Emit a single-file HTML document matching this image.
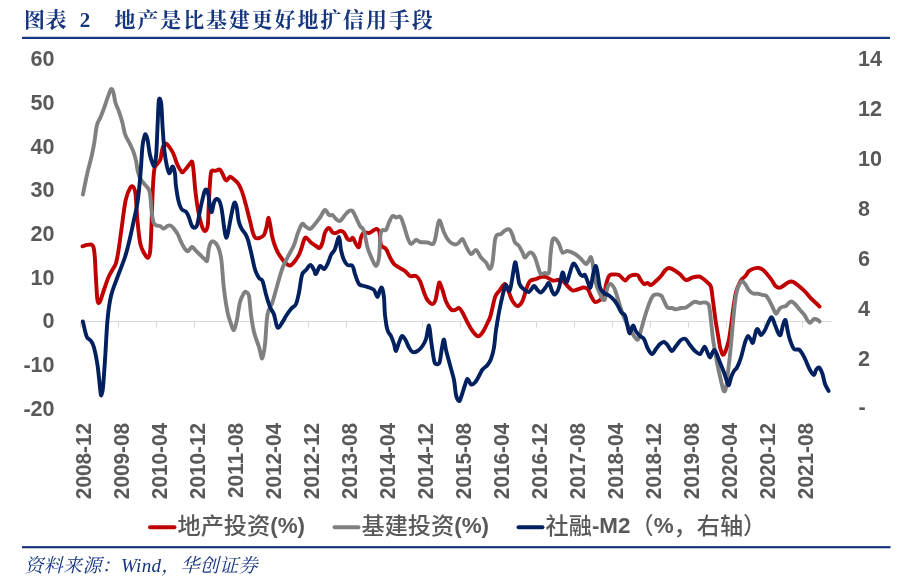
<!DOCTYPE html>
<html lang="zh-CN">
<head>
<meta charset="utf-8">
<title>图表 2 地产是比基建更好地扩信用手段</title>
<style>
html,body{margin:0;padding:0;background:#fff;}
body{width:908px;height:587px;overflow:hidden;position:relative;}
svg{position:absolute;left:0;top:0;display:block;}
.ttl{font-family:"Liberation Serif","Noto Serif CJK SC",serif;font-weight:bold;font-size:21px;fill:#15357f;}
.src{font-family:"Liberation Serif","Noto Serif CJK SC",serif;font-style:italic;font-size:19px;fill:#15357f;}
.ax{font-family:"Liberation Sans","Noto Sans CJK SC",sans-serif;font-weight:bold;font-size:21.6px;fill:#595959;}
.lg{font-family:"Liberation Sans","Noto Sans CJK SC",sans-serif;font-weight:500;font-size:23.2px;fill:#595959;}
.lgb{font-weight:bold;font-size:22.4px;}
.ln{fill:none;stroke-width:3.9;stroke-linecap:round;stroke-linejoin:round;}
</style>
</head>
<body>
<svg width="908" height="587" viewBox="0 0 908 587">
<rect x="0" y="0" width="908" height="587" fill="#ffffff"/>

<text class="ttl" x="24" y="27.2" style="letter-spacing:0.6px">图表</text>
<text class="ttl" x="79.8" y="27.2">2</text>
<text class="ttl" x="114.6" y="27.2" style="letter-spacing:1.85px">地产是比基建更好地扩信用手段</text>
<rect x="22" y="36.8" width="868" height="2.2" fill="#15357f"/>
<rect x="22" y="546.1" width="868.5" height="2.2" fill="#15357f"/>
<text class="src" x="24.5" y="572" style="letter-spacing:0.3px">资料来源：Wind，华创证券</text>
<text class="ax" x="54.6" y="66.4" text-anchor="end">60</text>
<text class="ax" x="54.6" y="110.1" text-anchor="end">50</text>
<text class="ax" x="54.6" y="153.7" text-anchor="end">40</text>
<text class="ax" x="54.6" y="197.4" text-anchor="end">30</text>
<text class="ax" x="54.6" y="241.0" text-anchor="end">20</text>
<text class="ax" x="54.6" y="284.7" text-anchor="end">10</text>
<text class="ax" x="54.6" y="328.4" text-anchor="end">0</text>
<text class="ax" x="54.6" y="372.0" text-anchor="end">-10</text>
<text class="ax" x="54.6" y="415.6" text-anchor="end">-20</text>
<text class="ax" x="858" y="66.4">14</text>
<text class="ax" x="858" y="116.3">12</text>
<text class="ax" x="858" y="166.1">10</text>
<text class="ax" x="858" y="216.0">8</text>
<text class="ax" x="858" y="265.9">6</text>
<text class="ax" x="858" y="315.7">4</text>
<text class="ax" x="858" y="365.6">2</text>
<text class="ax" x="858.5" y="413.8">-</text>
<g stroke="#d9d9d9" stroke-width="1" fill="none">
<path d="M80.5 321.5H831.5"/>
<path d="M80.5 321.5v6M118.5 321.5v6M156.5 321.5v6M194.5 321.5v6M232.5 321.5v6M270.5 321.5v6M308.5 321.5v6M346.5 321.5v6M384.5 321.5v6M422.5 321.5v6M460.5 321.5v6M498.5 321.5v6M536.5 321.5v6M574.5 321.5v6M612.5 321.5v6M650.5 321.5v6M688.5 321.5v6M726.5 321.5v6M764.5 321.5v6M802.5 321.5v6"/>
</g>
<text class="ax" transform="translate(90.7 422.8) rotate(-90) scale(0.964 1)" text-anchor="end">2008-12</text>
<text class="ax" transform="translate(128.7 422.8) rotate(-90) scale(0.964 1)" text-anchor="end">2009-08</text>
<text class="ax" transform="translate(166.7 422.8) rotate(-90) scale(0.964 1)" text-anchor="end">2010-04</text>
<text class="ax" transform="translate(204.7 422.8) rotate(-90) scale(0.964 1)" text-anchor="end">2010-12</text>
<text class="ax" transform="translate(242.7 422.8) rotate(-90) scale(0.964 1)" text-anchor="end">2011-08</text>
<text class="ax" transform="translate(280.7 422.8) rotate(-90) scale(0.964 1)" text-anchor="end">2012-04</text>
<text class="ax" transform="translate(318.7 422.8) rotate(-90) scale(0.964 1)" text-anchor="end">2012-12</text>
<text class="ax" transform="translate(356.7 422.8) rotate(-90) scale(0.964 1)" text-anchor="end">2013-08</text>
<text class="ax" transform="translate(394.7 422.8) rotate(-90) scale(0.964 1)" text-anchor="end">2014-04</text>
<text class="ax" transform="translate(432.7 422.8) rotate(-90) scale(0.964 1)" text-anchor="end">2014-12</text>
<text class="ax" transform="translate(470.7 422.8) rotate(-90) scale(0.964 1)" text-anchor="end">2015-08</text>
<text class="ax" transform="translate(508.7 422.8) rotate(-90) scale(0.964 1)" text-anchor="end">2016-04</text>
<text class="ax" transform="translate(546.7 422.8) rotate(-90) scale(0.964 1)" text-anchor="end">2016-12</text>
<text class="ax" transform="translate(584.7 422.8) rotate(-90) scale(0.964 1)" text-anchor="end">2017-08</text>
<text class="ax" transform="translate(622.7 422.8) rotate(-90) scale(0.964 1)" text-anchor="end">2018-04</text>
<text class="ax" transform="translate(660.7 422.8) rotate(-90) scale(0.964 1)" text-anchor="end">2018-12</text>
<text class="ax" transform="translate(698.7 422.8) rotate(-90) scale(0.964 1)" text-anchor="end">2019-08</text>
<text class="ax" transform="translate(736.7 422.8) rotate(-90) scale(0.964 1)" text-anchor="end">2020-04</text>
<text class="ax" transform="translate(774.7 422.8) rotate(-90) scale(0.964 1)" text-anchor="end">2020-12</text>
<text class="ax" transform="translate(812.7 422.8) rotate(-90) scale(0.964 1)" text-anchor="end">2021-08</text>
<path class="ln" stroke="#c00000" d="M82.5 246.3C83.3 246.1 85.7 245.2 87.2 244.9C88.7 244.6 90.4 244.2 91.5 244.6C92.6 245.0 93.0 245.4 93.6 247.5C94.1 249.6 94.4 252.2 94.8 257.0C95.2 261.8 95.4 269.0 95.8 276.0C96.2 283.0 96.8 294.5 97.3 299.0C97.8 303.5 98.1 302.8 98.6 303.0C99.1 303.2 99.5 302.8 100.4 300.5C101.3 298.2 102.7 293.5 104.1 289.5C105.5 285.5 107.2 280.1 108.8 276.5C110.4 272.9 112.2 270.4 113.5 268.0C114.8 265.6 115.4 265.6 116.3 262.0C117.2 258.4 118.2 252.5 119.1 246.5C120.0 240.5 120.8 233.8 121.9 226.0C123.0 218.2 124.3 206.4 125.7 200.0C127.1 193.6 129.1 189.6 130.4 187.5C131.7 185.4 132.8 186.2 133.7 187.5C134.6 188.8 135.0 189.4 135.6 195.0C136.2 200.6 136.7 212.9 137.5 221.0C138.3 229.1 139.2 238.4 140.3 243.7C141.4 249.0 142.8 250.7 144.0 253.0C145.2 255.3 146.8 258.1 147.8 257.8C148.8 257.5 149.6 256.5 150.2 251.0C150.8 245.5 151.1 235.6 151.5 225.0C151.9 214.4 152.4 196.8 152.9 187.5C153.4 178.2 153.7 172.9 154.4 169.0C155.1 165.1 156.2 165.6 157.2 164.0C158.2 162.4 159.5 162.1 160.3 159.7C161.1 157.3 161.6 151.9 162.2 149.4C162.8 146.9 163.4 145.6 164.1 144.7C164.8 143.8 165.4 143.2 166.3 143.7C167.2 144.2 168.5 145.8 169.7 147.5C170.9 149.2 172.2 151.2 173.5 154.0C174.8 156.8 175.9 161.5 177.2 164.3C178.4 167.1 180.1 169.7 181.0 171.0C181.9 172.3 181.9 172.7 182.8 172.2C183.7 171.7 185.3 169.5 186.6 168.0C187.8 166.5 189.4 164.4 190.3 163.4C191.2 162.4 191.7 160.6 192.3 162.0C192.9 163.4 193.1 166.8 193.7 172.0C194.2 177.2 194.8 186.3 195.6 193.0C196.4 199.7 197.3 206.2 198.4 211.9C199.5 217.6 201.0 223.7 202.2 226.9C203.3 230.1 204.4 231.3 205.3 231.0C206.2 230.7 207.2 229.2 207.8 225.0C208.4 220.8 208.3 213.5 208.7 206.0C209.1 198.5 209.7 185.8 210.2 180.0C210.7 174.2 210.6 172.5 211.5 171.0C212.4 169.5 214.2 171.1 215.5 170.8C216.8 170.6 218.4 169.2 219.5 169.5C220.6 169.8 221.1 171.1 222.0 172.7C222.9 174.3 224.2 178.0 225.0 179.3C225.8 180.6 225.9 180.7 226.8 180.3C227.7 179.9 229.0 176.8 230.2 176.7C231.4 176.6 232.8 178.3 234.2 179.6C235.6 180.9 237.4 182.3 238.8 184.5C240.2 186.7 241.3 189.4 242.5 193.0C243.7 196.6 244.9 201.3 246.2 206.0C247.4 210.7 248.9 216.6 250.0 221.0C251.1 225.4 251.9 229.7 252.8 232.5C253.7 235.3 254.1 236.8 255.2 237.7C256.3 238.6 257.8 238.4 259.3 238.0C260.8 237.6 262.8 236.8 264.0 235.0C265.2 233.2 265.8 229.8 266.5 226.9C267.2 224.1 267.7 218.2 268.3 217.9C268.9 217.6 269.5 221.7 270.2 225.0C270.9 228.3 271.5 234.0 272.5 238.0C273.5 242.0 274.9 246.0 276.2 249.0C277.4 252.0 278.5 253.8 280.0 256.0C281.5 258.2 283.3 260.9 285.0 262.5C286.7 264.1 288.3 265.8 290.0 265.5C291.7 265.2 293.3 263.2 295.0 261.0C296.7 258.8 298.5 256.0 300.0 252.5C301.5 249.0 303.0 242.5 304.0 240.0C305.0 237.5 304.8 237.1 306.0 237.5C307.2 237.9 309.3 241.1 311.0 242.5C312.7 243.9 314.6 245.1 316.0 246.0C317.4 246.9 318.4 248.6 319.5 248.0C320.6 247.4 321.6 245.1 322.5 242.5C323.4 239.9 323.9 234.9 325.0 232.5C326.1 230.1 327.8 228.0 329.0 228.0C330.2 228.0 331.3 231.7 332.5 232.5C333.7 233.3 334.8 233.2 336.0 233.0C337.2 232.8 338.7 231.1 340.0 231.0C341.3 230.9 342.8 231.2 344.0 232.5C345.2 233.8 346.4 237.8 347.5 239.0C348.6 240.2 349.6 240.2 350.5 240.0C351.4 239.8 352.1 237.3 353.0 238.0C353.9 238.7 355.0 242.5 356.0 244.0C357.0 245.5 358.2 248.1 359.0 247.0C359.8 245.9 360.2 239.9 361.0 237.5C361.8 235.1 362.7 233.2 364.0 232.5C365.3 231.8 367.3 233.4 369.0 233.0C370.7 232.6 372.7 230.7 374.0 230.0C375.3 229.3 376.1 228.6 377.0 229.0C377.9 229.4 378.8 229.8 379.5 232.5C380.2 235.2 379.9 242.2 381.0 245.0C382.1 247.8 384.5 246.9 386.0 249.0C387.5 251.1 388.7 255.0 390.0 257.5C391.3 260.0 392.5 262.3 394.0 264.0C395.5 265.7 397.2 266.3 399.0 267.5C400.8 268.7 403.2 269.6 405.0 271.0C406.8 272.4 408.2 275.2 410.0 276.0C411.8 276.8 414.3 275.2 416.0 276.0C417.7 276.8 418.7 278.2 420.0 281.0C421.3 283.8 422.8 289.3 424.0 292.5C425.2 295.7 426.1 298.1 427.5 300.0C428.9 301.9 431.2 304.0 432.5 304.0C433.8 304.0 434.6 302.8 435.5 300.0C436.4 297.2 437.3 290.4 438.0 287.5C438.7 284.6 438.8 282.1 439.5 282.5C440.2 282.9 441.4 286.8 442.5 290.0C443.6 293.2 444.6 298.2 446.0 301.5C447.4 304.8 449.5 308.1 451.0 309.5C452.5 310.9 453.7 310.2 455.0 310.0C456.3 309.8 457.8 307.6 459.0 308.0C460.2 308.4 461.1 310.1 462.5 312.5C463.9 314.9 465.8 319.4 467.5 322.5C469.2 325.6 470.8 328.7 472.5 331.0C474.2 333.3 476.3 336.1 478.0 336.3C479.7 336.6 481.2 334.2 482.5 332.5C483.8 330.8 484.8 328.5 486.0 326.0C487.2 323.5 488.9 320.6 490.0 317.5C491.1 314.4 491.6 311.1 492.5 307.5C493.4 303.9 494.2 298.9 495.5 296.0C496.8 293.1 498.4 292.0 500.0 290.0C501.6 288.0 503.5 283.6 505.0 284.0C506.5 284.4 507.8 289.7 509.0 292.5C510.2 295.3 511.1 298.8 512.5 301.0C513.9 303.2 515.8 306.0 517.5 306.0C519.2 306.0 521.1 303.7 522.5 301.0C523.9 298.3 524.8 293.3 526.0 290.0C527.2 286.7 528.3 282.8 530.0 281.0C531.7 279.2 534.2 279.7 536.0 279.0C537.8 278.3 539.3 277.3 541.0 277.0C542.7 276.7 544.1 276.4 546.0 277.0C547.9 277.6 550.6 280.0 552.5 280.5C554.4 281.0 555.8 280.0 557.5 280.0C559.2 280.0 560.8 279.5 562.5 280.5C564.2 281.5 565.8 284.3 567.5 286.0C569.2 287.7 570.8 289.9 572.5 290.5C574.2 291.1 575.6 290.0 577.5 289.5C579.4 289.0 582.2 287.5 584.0 287.5C585.8 287.5 586.8 288.1 588.0 289.5C589.2 290.9 589.8 293.9 591.0 296.0C592.2 298.1 593.5 301.3 595.0 302.0C596.5 302.7 598.5 301.0 600.0 300.0C601.5 299.0 603.0 298.5 604.0 296.0C605.0 293.5 605.2 288.3 606.0 285.0C606.8 281.7 607.9 277.8 609.0 276.0C610.1 274.2 610.8 274.7 612.5 274.5C614.2 274.3 616.9 274.0 619.0 275.0C621.1 276.0 623.2 280.3 625.0 280.5C626.8 280.7 627.9 276.9 630.0 276.0C632.1 275.1 635.8 274.5 637.5 275.0C639.2 275.5 638.9 277.5 640.0 279.0C641.1 280.5 642.8 283.3 644.0 284.0C645.2 284.7 646.3 282.8 647.5 283.0C648.7 283.2 649.6 285.3 651.0 285.0C652.4 284.7 654.3 282.5 656.0 281.0C657.7 279.5 659.5 277.8 661.0 276.0C662.5 274.2 663.7 271.8 665.0 270.5C666.3 269.2 667.5 268.1 669.0 268.0C670.5 267.9 672.2 268.9 674.0 270.0C675.8 271.1 678.0 272.6 680.0 274.3C682.0 276.0 683.9 279.5 686.0 280.0C688.1 280.5 690.3 278.1 692.5 277.5C694.7 276.9 697.2 276.2 699.0 276.5C700.8 276.8 702.0 277.9 703.5 279.0C705.0 280.1 706.8 281.7 708.0 283.0C709.2 284.3 710.2 284.0 711.0 287.0C711.8 290.0 712.2 295.5 713.0 301.0C713.8 306.5 714.6 313.8 715.5 320.0C716.4 326.2 717.7 333.2 718.5 338.0C719.3 342.8 719.6 346.2 720.5 349.0C721.4 351.8 722.3 355.8 723.7 354.5C725.0 353.2 727.3 346.2 728.6 341.0C729.9 335.8 730.5 328.9 731.4 323.0C732.2 317.1 732.9 310.7 733.7 305.4C734.5 300.1 735.3 294.7 736.3 291.0C737.3 287.3 738.6 285.0 739.6 283.0C740.6 281.0 741.0 280.2 742.0 279.0C743.0 277.8 744.3 277.3 745.5 276.0C746.7 274.7 747.6 272.2 749.0 271.0C750.4 269.8 752.3 269.0 754.0 268.5C755.7 268.0 757.6 267.8 759.0 268.0C760.4 268.2 761.2 268.5 762.5 269.5C763.8 270.5 765.4 272.2 767.0 274.0C768.6 275.8 770.6 278.5 772.0 280.5C773.4 282.5 774.2 284.8 775.5 286.0C776.8 287.2 778.2 287.7 779.5 287.7C780.8 287.7 781.6 286.9 783.0 286.0C784.4 285.1 786.6 283.2 788.0 282.5C789.4 281.8 790.3 281.4 791.5 281.5C792.7 281.6 793.6 282.1 795.0 283.0C796.4 283.9 798.2 285.5 800.0 287.0C801.8 288.5 803.7 290.1 805.5 292.0C807.3 293.9 809.2 296.7 811.0 298.5C812.8 300.3 814.6 301.7 816.0 303.0C817.4 304.3 818.9 305.9 819.5 306.5"/>
<path class="ln" stroke="#808080" d="M82.9 194.5C83.6 191.0 85.7 180.3 87.2 173.7C88.7 167.1 90.7 160.6 91.9 155.0C93.2 149.4 93.9 145.0 94.7 140.0C95.5 135.0 96.0 128.8 97.0 125.0C98.0 121.2 99.2 120.3 100.4 117.5C101.6 114.7 102.8 111.4 104.1 108.0C105.3 104.6 106.7 100.1 107.9 96.9C109.1 93.7 110.3 89.7 111.2 89.0C112.1 88.3 112.8 90.8 113.5 93.0C114.2 95.2 114.5 99.3 115.4 102.5C116.3 105.7 117.9 108.5 119.1 111.9C120.3 115.3 121.5 119.2 122.5 123.0C123.5 126.8 123.9 131.1 125.1 134.4C126.2 137.7 128.1 140.0 129.4 142.8C130.8 145.6 132.1 148.2 133.2 151.2C134.3 154.2 135.2 157.2 136.0 160.6C136.8 164.0 137.1 168.7 137.9 171.8C138.7 174.9 139.5 177.1 140.7 179.3C141.9 181.5 143.9 183.2 145.3 185.0C146.7 186.8 148.2 187.8 149.1 190.0C150.0 192.2 150.1 194.7 150.5 198.0C150.9 201.3 151.0 206.0 151.5 210.0C152.0 214.0 152.6 219.4 153.4 222.0C154.2 224.6 155.1 224.6 156.2 225.3C157.3 226.0 158.8 225.4 160.0 226.0C161.2 226.6 162.4 228.7 163.7 228.7C164.9 228.7 166.4 226.5 167.5 226.0C168.6 225.5 169.2 225.1 170.3 225.5C171.4 225.9 172.8 227.2 174.0 228.7C175.2 230.2 176.6 232.1 177.8 234.4C179.1 236.8 180.2 240.3 181.5 242.8C182.8 245.3 184.2 247.9 185.3 249.3C186.4 250.7 186.9 251.6 188.0 251.2C189.1 250.8 190.7 247.3 191.8 247.0C192.9 246.7 193.3 248.1 194.6 249.3C195.8 250.5 197.6 252.3 199.3 254.0C201.0 255.7 203.7 258.5 205.0 259.6C206.3 260.7 206.6 262.2 207.2 260.5C207.8 258.8 208.1 252.2 208.7 249.3C209.3 246.4 209.9 244.1 210.6 242.8C211.3 241.5 212.1 241.2 213.0 241.3C213.9 241.5 215.2 242.4 216.2 243.7C217.2 245.0 218.1 246.4 219.0 249.3C219.9 252.2 220.7 254.3 221.5 261.0C222.3 267.7 223.0 281.0 224.0 289.5C225.0 298.0 226.3 306.2 227.5 312.0C228.7 317.8 229.9 321.0 231.0 324.0C232.1 327.0 233.0 330.8 234.0 330.0C235.0 329.2 236.0 324.2 237.0 319.5C238.0 314.8 238.8 306.4 240.0 302.0C241.2 297.6 243.0 294.7 244.0 293.0C245.0 291.3 245.2 291.5 246.0 292.0C246.8 292.5 248.2 292.2 249.0 296.0C249.8 299.8 250.2 308.5 251.0 314.5C251.8 320.5 252.7 326.6 254.0 332.0C255.3 337.4 257.6 342.6 259.0 347.0C260.4 351.4 261.3 358.9 262.3 358.5C263.3 358.1 264.1 351.8 265.0 344.5C265.9 337.2 266.2 321.6 267.5 314.5C268.8 307.4 270.8 307.0 272.5 302.0C274.2 297.0 275.8 290.2 277.5 284.5C279.2 278.8 280.8 272.5 282.5 268.0C284.2 263.5 285.6 261.3 287.5 257.5C289.4 253.7 292.3 248.9 294.0 245.0C295.7 241.1 296.2 237.5 297.5 234.0C298.8 230.5 300.8 225.3 302.0 224.0C303.2 222.7 303.7 225.2 305.0 226.0C306.3 226.8 308.3 229.3 310.0 229.0C311.7 228.7 313.3 225.9 315.0 224.0C316.7 222.1 318.3 219.8 320.0 217.5C321.7 215.2 323.5 210.4 325.0 210.0C326.5 209.6 327.8 214.2 329.0 215.0C330.2 215.8 331.3 214.3 332.5 215.0C333.7 215.7 334.8 218.0 336.0 219.0C337.2 220.0 338.5 221.7 340.0 221.0C341.5 220.3 343.5 216.7 345.0 215.0C346.5 213.3 347.8 211.7 349.0 211.0C350.2 210.3 351.3 209.9 352.5 211.0C353.7 212.1 354.8 215.0 356.0 217.5C357.2 220.0 358.7 223.8 360.0 226.0C361.3 228.2 362.8 227.4 364.0 231.0C365.2 234.6 366.1 242.7 367.5 247.5C368.9 252.3 371.1 256.9 372.5 260.0C373.9 263.1 374.9 266.4 376.0 266.0C377.1 265.6 378.2 262.7 379.0 257.5C379.8 252.3 379.9 239.6 380.5 235.0C381.1 230.4 381.6 230.8 382.5 230.0C383.4 229.2 384.9 231.2 386.0 230.0C387.1 228.8 387.9 224.8 389.0 222.5C390.1 220.2 391.3 216.8 392.5 216.0C393.7 215.2 394.7 217.3 396.0 217.5C397.3 217.7 399.2 215.6 400.5 217.0C401.8 218.4 402.8 222.6 404.0 226.0C405.2 229.4 406.3 234.5 407.5 237.5C408.7 240.5 409.6 243.6 411.0 244.0C412.4 244.4 414.5 240.3 416.0 240.0C417.5 239.7 418.1 241.6 420.0 242.0C421.9 242.4 425.3 242.2 427.5 242.5C429.7 242.8 431.7 244.8 433.0 244.0C434.3 243.2 434.7 240.8 435.5 237.5C436.3 234.2 437.2 226.8 438.0 224.0C438.8 221.2 439.0 219.6 440.0 221.0C441.0 222.4 442.5 229.2 444.0 232.5C445.5 235.8 447.2 239.0 449.0 241.0C450.8 243.0 453.3 244.2 455.0 244.5C456.7 244.8 457.8 243.4 459.0 242.5C460.2 241.6 461.3 238.4 462.5 239.0C463.7 239.6 464.6 243.5 466.0 246.0C467.4 248.5 469.3 253.3 471.0 254.0C472.7 254.7 474.3 249.4 476.0 250.0C477.7 250.6 479.3 255.4 481.0 257.5C482.7 259.6 484.5 260.6 486.0 262.5C487.5 264.4 488.9 269.0 490.0 269.0C491.1 269.0 491.7 267.3 492.5 262.5C493.3 257.7 494.2 244.6 495.0 240.0C495.8 235.4 496.0 236.0 497.0 235.0C498.0 234.0 499.7 234.8 501.0 234.0C502.3 233.2 503.6 231.2 505.0 230.5C506.4 229.8 508.2 228.8 509.5 229.5C510.8 230.2 511.6 232.8 512.5 235.0C513.4 237.2 513.9 240.7 515.0 242.5C516.1 244.3 517.8 244.3 519.0 246.0C520.2 247.7 521.5 250.6 522.5 252.5C523.5 254.4 523.9 257.4 525.0 257.5C526.1 257.6 527.8 253.8 529.0 253.0C530.2 252.2 531.0 252.2 532.0 253.0C533.0 253.8 533.8 254.7 535.0 257.5C536.2 260.3 538.0 267.2 539.0 270.0C540.0 272.8 540.0 273.5 541.0 274.0C542.0 274.5 543.7 273.2 545.0 273.0C546.3 272.8 548.1 275.5 549.0 272.5C549.9 269.5 549.9 260.4 550.5 255.0C551.1 249.6 551.7 242.7 552.5 240.0C553.3 237.3 554.4 238.3 555.5 239.0C556.6 239.7 557.8 241.8 559.0 244.0C560.2 246.2 561.1 251.3 562.5 252.5C563.9 253.7 565.4 250.8 567.5 251.0C569.6 251.2 572.8 252.7 575.0 254.0C577.2 255.3 579.2 257.3 581.0 259.0C582.8 260.7 584.7 263.8 586.0 264.0C587.3 264.2 588.2 261.2 589.0 260.0C589.8 258.8 590.4 256.6 591.0 257.0C591.6 257.4 591.8 258.7 592.5 262.5C593.2 266.3 593.8 274.8 595.0 280.0C596.2 285.2 598.4 290.7 600.0 294.0C601.6 297.3 603.2 301.1 604.5 300.0C605.8 298.9 606.4 290.2 607.5 287.5C608.6 284.8 609.8 283.6 611.0 284.0C612.2 284.4 613.7 286.9 615.0 290.0C616.3 293.1 617.5 297.9 619.0 302.5C620.5 307.1 622.3 313.3 624.0 317.5C625.7 321.7 627.3 324.4 629.0 327.5C630.7 330.6 632.5 334.0 634.0 336.0C635.5 338.0 636.8 340.5 638.0 339.5C639.2 338.5 639.8 333.9 641.0 330.0C642.2 326.1 643.5 320.8 645.0 316.0C646.5 311.2 648.5 305.0 650.0 301.5C651.5 298.0 652.2 296.0 654.0 295.0C655.8 294.0 659.3 294.5 661.0 295.5C662.7 296.5 662.9 299.0 664.0 301.0C665.1 303.0 666.2 306.3 667.5 307.5C668.8 308.7 670.6 307.7 672.0 308.0C673.4 308.3 674.5 309.3 676.0 309.3C677.5 309.3 679.3 308.3 681.0 308.0C682.7 307.7 684.3 308.2 686.0 307.5C687.7 306.8 689.5 305.0 691.0 304.0C692.5 303.0 693.5 301.9 695.0 301.7C696.5 301.5 698.3 302.9 700.0 303.0C701.7 303.1 703.5 302.1 705.0 302.5C706.5 302.9 707.9 302.3 708.9 305.4C709.9 308.5 710.3 315.1 711.0 321.0C711.7 326.9 712.3 334.0 713.3 341.0C714.3 348.0 715.8 356.4 717.1 363.0C718.4 369.6 720.0 376.3 721.0 380.7C722.0 385.1 722.5 387.7 723.1 389.5C723.8 391.3 724.4 391.7 724.9 391.3C725.4 390.9 725.5 390.6 726.1 387.0C726.7 383.4 727.6 375.8 728.3 369.6C729.0 363.4 729.8 357.1 730.5 349.7C731.2 342.3 732.0 333.1 732.7 325.3C733.4 317.5 734.2 308.9 734.9 303.0C735.6 297.1 736.3 293.2 737.1 290.0C737.9 286.8 739.1 284.9 739.9 283.5C740.7 282.1 741.1 281.2 742.0 281.3C742.9 281.4 744.3 282.9 745.4 284.4C746.5 285.8 747.4 288.5 748.7 290.0C750.0 291.5 751.5 292.9 753.0 293.5C754.5 294.1 756.4 293.4 758.0 293.7C759.6 293.9 761.2 294.7 762.5 295.0C763.8 295.3 764.9 294.8 766.0 295.6C767.1 296.4 767.8 297.9 769.0 300.0C770.2 302.1 771.8 305.7 773.0 308.0C774.2 310.3 774.9 313.6 776.0 313.7C777.1 313.8 778.5 309.8 779.5 308.7C780.5 307.6 780.9 307.4 782.0 307.0C783.1 306.6 784.9 306.7 786.0 306.0C787.1 305.3 787.8 303.8 788.7 303.0C789.6 302.2 790.5 301.3 791.5 301.5C792.5 301.7 793.6 302.6 795.0 304.0C796.4 305.4 798.4 308.2 800.0 310.0C801.6 311.8 803.2 313.2 804.5 315.0C805.8 316.8 806.6 319.2 807.5 320.5C808.4 321.8 809.2 322.6 810.0 322.7C810.8 322.8 811.2 321.6 812.0 321.0C812.8 320.4 813.5 319.1 814.5 318.9C815.5 318.7 817.2 319.6 818.0 320.0C818.8 320.4 819.2 321.2 819.5 321.5"/>
<path class="ln" stroke="#002060" d="M82.9 321.5C83.4 323.7 85.2 331.8 86.0 334.5C86.8 337.2 86.7 336.9 87.5 338.0C88.3 339.1 89.9 339.4 91.0 341.0C92.1 342.6 92.9 343.5 94.0 347.5C95.1 351.5 96.5 358.3 97.5 365.0C98.5 371.7 99.4 382.4 100.0 387.5C100.6 392.6 100.7 395.5 101.2 395.5C101.7 395.5 102.4 393.4 103.0 387.5C103.6 381.6 104.2 371.2 105.0 360.0C105.8 348.8 106.5 330.7 107.5 320.0C108.5 309.3 109.3 303.2 111.0 296.0C112.7 288.8 115.2 283.5 117.5 277.0C119.8 270.5 122.9 263.5 125.0 257.0C127.1 250.5 128.6 244.0 130.0 238.0C131.4 232.0 132.4 226.9 133.7 221.0C134.9 215.1 136.4 210.3 137.5 202.5C138.6 194.7 139.7 183.4 140.5 174.0C141.3 164.6 141.8 152.2 142.5 146.0C143.2 139.8 143.9 138.4 144.4 136.5C144.9 134.6 145.2 133.8 145.7 134.4C146.2 135.0 146.9 136.6 147.6 140.0C148.3 143.4 149.1 150.9 150.0 155.0C150.9 159.1 152.2 162.6 152.9 164.3C153.6 166.0 153.9 166.9 154.4 165.3C154.9 163.8 155.7 161.4 156.2 155.0C156.7 148.6 157.1 135.4 157.5 127.0C157.9 118.6 158.2 109.3 158.5 104.5C158.8 99.7 159.1 98.4 159.6 98.4C160.1 98.4 160.8 99.7 161.3 104.5C161.8 109.3 162.1 119.2 162.6 127.0C163.1 134.8 163.8 144.7 164.5 151.2C165.2 157.7 166.1 162.5 166.9 166.2C167.7 169.9 168.4 173.0 169.2 173.3C170.0 173.6 170.9 169.1 171.6 168.0C172.2 166.9 172.5 165.9 173.1 166.8C173.7 167.8 174.5 170.6 175.0 173.7C175.5 176.8 175.3 181.1 175.9 185.6C176.5 190.1 177.5 196.7 178.4 200.6C179.3 204.5 180.2 207.1 181.5 209.0C182.8 210.9 184.9 210.5 186.2 211.9C187.4 213.3 188.1 215.3 189.0 217.5C189.9 219.7 190.6 223.3 191.5 225.0C192.4 226.7 193.4 227.8 194.3 227.8C195.2 227.8 196.2 227.3 197.1 225.0C197.9 222.7 198.6 217.8 199.4 213.7C200.2 209.6 201.3 204.3 202.2 200.6C203.1 196.8 203.9 193.0 204.6 191.2C205.3 189.4 205.9 189.1 206.5 189.7C207.1 190.3 207.8 191.9 208.4 195.0C209.0 198.1 209.6 205.2 210.2 208.0C210.8 210.8 211.3 212.8 211.9 211.9C212.5 211.0 213.2 204.7 214.0 202.5C214.8 200.3 215.7 199.2 216.6 199.0C217.5 198.8 218.7 199.7 219.6 201.5C220.5 203.3 221.0 205.5 221.8 210.0C222.6 214.5 223.6 224.1 224.3 228.7C225.0 233.3 225.5 237.4 226.2 237.7C226.9 238.0 227.6 234.3 228.4 230.6C229.2 226.9 230.3 220.0 231.2 215.6C232.1 211.2 233.0 206.5 233.7 204.4C234.4 202.3 234.8 202.3 235.3 202.9C235.8 203.5 236.2 205.0 236.8 208.0C237.4 211.0 237.9 217.6 238.7 221.0C239.5 224.4 240.4 226.6 241.5 228.7C242.6 230.8 244.2 231.9 245.3 233.8C246.4 235.7 247.1 237.0 248.0 240.0C248.9 243.0 249.8 247.1 251.0 252.0C252.2 256.9 253.7 265.2 255.0 269.5C256.3 273.8 257.8 276.1 259.0 278.0C260.2 279.9 261.3 278.2 262.5 281.0C263.7 283.8 264.8 290.2 266.0 294.5C267.2 298.8 268.7 303.7 270.0 307.0C271.3 310.3 272.8 311.1 274.0 314.5C275.2 317.9 276.1 326.2 277.5 327.5C278.9 328.8 281.1 323.9 282.5 322.0C283.9 320.1 284.6 318.2 286.0 316.0C287.4 313.8 289.3 311.0 291.0 309.0C292.7 307.0 294.7 306.8 296.0 304.0C297.3 301.2 298.0 297.3 299.0 292.5C300.0 287.7 300.8 278.8 302.0 275.0C303.2 271.2 304.6 271.7 306.0 270.0C307.4 268.3 309.2 265.0 310.5 265.0C311.8 265.0 313.1 268.5 314.0 270.0C314.9 271.5 315.0 274.7 316.0 274.0C317.0 273.3 318.7 266.8 320.0 266.0C321.3 265.2 322.8 269.3 324.0 269.0C325.2 268.7 326.3 266.3 327.5 264.0C328.7 261.7 329.8 257.5 331.0 255.0C332.2 252.5 333.7 252.0 335.0 249.0C336.3 246.0 338.0 236.8 339.0 237.0C340.0 237.2 340.2 246.2 341.0 250.0C341.8 253.8 342.9 257.5 344.0 260.0C345.1 262.5 346.1 264.0 347.5 265.0C348.9 266.0 351.2 264.5 352.5 266.0C353.8 267.5 353.9 271.0 355.0 274.0C356.1 277.0 357.5 282.0 359.0 284.0C360.5 286.0 362.3 285.4 364.0 286.0C365.7 286.6 367.3 286.8 369.0 287.5C370.7 288.2 372.6 288.4 374.0 290.0C375.4 291.6 376.5 297.0 377.5 297.0C378.5 297.0 379.2 291.5 380.0 290.0C380.8 288.5 381.3 286.7 382.0 288.0C382.7 289.3 383.5 293.5 384.0 298.0C384.5 302.5 384.4 309.7 385.0 315.0C385.6 320.3 386.5 326.5 387.5 330.0C388.5 333.5 389.9 333.7 391.0 336.0C392.1 338.3 393.2 341.5 394.0 344.0C394.8 346.5 395.2 351.2 396.0 351.0C396.8 350.8 398.0 345.0 399.0 342.5C400.0 340.0 401.0 336.6 402.0 336.0C403.0 335.4 403.8 337.1 405.0 339.0C406.2 340.9 407.8 345.3 409.0 347.5C410.2 349.7 411.1 351.4 412.5 352.0C413.9 352.6 415.8 352.0 417.5 351.0C419.2 350.0 421.1 348.0 422.5 346.0C423.9 344.0 424.9 342.4 426.0 339.0C427.1 335.6 428.2 325.3 429.0 325.5C429.8 325.7 430.2 334.2 431.0 340.0C431.8 345.8 433.2 356.0 434.0 360.0C434.8 364.0 435.1 363.6 436.0 364.0C436.9 364.4 438.5 365.2 439.5 362.5C440.5 359.8 441.2 351.3 442.0 347.5C442.8 343.7 443.3 339.1 444.0 339.5C444.7 339.9 445.0 345.8 446.0 350.0C447.0 354.2 448.7 360.0 450.0 365.0C451.3 370.0 453.0 375.0 454.0 380.0C455.0 385.0 455.2 391.5 456.0 395.0C456.8 398.5 458.2 400.6 459.0 401.0C459.8 401.4 460.0 400.2 461.0 397.5C462.0 394.8 463.9 388.1 465.0 385.0C466.1 381.9 466.5 379.1 467.5 379.0C468.5 378.9 469.8 383.9 471.0 384.5C472.2 385.1 473.7 383.9 475.0 382.5C476.3 381.1 477.8 378.2 479.0 376.0C480.2 373.8 481.1 371.3 482.5 369.5C483.9 367.7 486.1 366.8 487.5 365.0C488.9 363.2 489.9 361.9 491.0 359.0C492.1 356.1 493.2 352.3 494.0 347.5C494.8 342.7 495.2 335.4 496.0 330.0C496.8 324.6 497.7 319.6 498.5 315.0C499.3 310.4 500.1 306.7 501.0 302.5C501.9 298.3 503.2 292.9 504.0 290.0C504.8 287.1 505.1 284.8 506.0 285.0C506.9 285.2 508.5 291.8 509.5 291.0C510.5 290.2 511.1 284.8 512.0 280.0C512.9 275.2 514.2 264.2 515.0 262.5C515.8 260.8 516.2 266.4 517.0 270.0C517.8 273.6 518.3 280.8 519.5 284.0C520.7 287.2 522.4 288.2 524.0 289.5C525.6 290.8 527.3 292.6 529.0 292.0C530.7 291.4 532.6 286.3 534.0 286.0C535.4 285.7 536.3 288.9 537.5 290.0C538.7 291.1 539.7 292.9 541.0 292.5C542.3 292.1 544.2 289.1 545.5 287.5C546.8 285.9 547.9 282.4 549.0 283.0C550.1 283.6 551.0 289.1 552.0 291.0C553.0 292.9 553.8 295.1 555.0 294.5C556.2 293.9 557.8 291.2 559.0 287.5C560.2 283.8 561.5 273.8 562.5 272.5C563.5 271.2 564.2 278.4 565.0 280.0C565.8 281.6 566.2 283.2 567.0 282.0C567.8 280.8 569.0 275.5 570.0 272.5C571.0 269.5 572.0 265.1 573.0 264.0C574.0 262.9 574.8 264.3 576.0 266.0C577.2 267.7 578.9 272.3 580.0 274.0C581.1 275.7 581.7 275.8 582.5 276.0C583.3 276.2 584.1 273.9 585.0 275.0C585.9 276.1 587.1 280.4 588.0 282.5C588.9 284.6 589.7 288.8 590.5 287.5C591.3 286.2 592.2 278.6 593.0 275.0C593.8 271.4 594.8 266.4 595.5 266.0C596.2 265.6 596.8 268.9 597.5 272.5C598.2 276.1 598.9 284.1 600.0 287.5C601.1 290.9 602.5 291.7 604.0 293.0C605.5 294.3 607.3 294.3 609.0 295.5C610.7 296.7 612.6 298.4 614.0 300.0C615.4 301.6 616.3 303.0 617.5 305.0C618.7 307.0 619.8 310.2 621.0 312.0C622.2 313.8 623.9 313.2 625.0 315.5C626.1 317.8 626.7 323.0 627.5 326.0C628.3 329.0 628.8 333.6 629.7 333.5C630.6 333.4 632.0 325.8 633.0 325.5C634.0 325.2 634.8 329.8 636.0 331.5C637.2 333.2 638.7 334.8 640.0 336.0C641.3 337.2 642.8 337.0 644.0 339.0C645.2 341.0 646.2 345.5 647.5 348.0C648.8 350.5 650.6 353.8 652.0 354.0C653.4 354.2 654.7 350.7 656.0 349.0C657.3 347.3 658.7 345.2 660.0 344.0C661.3 342.8 662.8 341.8 664.0 342.0C665.2 342.2 666.2 343.5 667.5 345.0C668.8 346.5 670.6 350.8 672.0 351.0C673.4 351.2 674.5 347.8 676.0 346.0C677.5 344.2 679.4 341.2 681.0 340.0C682.6 338.8 684.0 338.2 685.5 339.0C687.0 339.8 688.4 343.0 690.0 345.0C691.6 347.0 693.3 349.5 695.0 351.0C696.7 352.5 698.7 354.3 700.0 354.0C701.3 353.7 702.2 350.2 703.0 349.0C703.8 347.8 704.2 346.4 705.0 347.0C705.8 347.6 706.7 350.8 707.5 352.5C708.3 354.2 709.2 357.5 710.0 357.5C710.8 357.5 711.7 353.7 712.5 352.5C713.3 351.3 713.9 349.2 715.0 350.5C716.1 351.8 717.5 356.3 719.0 360.0C720.5 363.7 722.6 368.7 724.0 372.5C725.4 376.3 726.7 380.9 727.5 383.0C728.3 385.1 728.4 385.9 729.0 385.0C729.6 384.1 730.2 379.8 731.0 377.5C731.8 375.2 733.0 372.7 734.0 371.0C735.0 369.3 735.8 369.8 737.0 367.5C738.2 365.2 739.7 361.7 741.0 357.5C742.3 353.3 743.8 346.1 745.0 342.5C746.2 338.9 747.0 336.4 748.0 336.0C749.0 335.6 750.2 338.9 751.0 340.0C751.8 341.1 752.2 344.0 753.0 342.5C753.8 341.0 755.2 333.2 756.0 331.0C756.8 328.8 757.2 328.8 758.0 329.5C758.8 330.2 759.8 334.9 761.0 335.0C762.2 335.1 763.7 332.3 765.0 330.0C766.3 327.7 767.8 323.1 769.0 321.0C770.2 318.9 771.0 316.8 772.0 317.5C773.0 318.2 774.0 322.5 775.0 325.0C776.0 327.5 777.1 330.8 778.0 332.5C778.9 334.2 779.7 336.2 780.5 335.0C781.3 333.8 782.2 327.5 783.0 325.0C783.8 322.5 784.8 319.2 785.5 320.0C786.2 320.8 786.8 326.7 787.5 330.0C788.2 333.3 788.9 336.8 790.0 340.0C791.1 343.2 792.5 347.4 794.0 349.0C795.5 350.6 797.6 348.7 799.0 349.5C800.4 350.3 801.3 352.1 802.5 354.0C803.7 355.9 804.8 358.3 806.0 361.0C807.2 363.7 808.7 367.7 810.0 370.0C811.3 372.3 813.0 375.0 814.0 375.0C815.0 375.0 815.2 371.2 816.0 370.0C816.8 368.8 817.9 366.8 819.0 367.5C820.1 368.2 821.5 371.2 822.5 374.0C823.5 376.8 824.0 381.2 825.0 384.0C826.0 386.8 828.0 389.8 828.6 391.0"/>
<path class="ln" stroke="#c00000" stroke-width="4.1" d="M150.0 527.3H174.5"/>
<text class="lg" x="177.5" y="533.6"><tspan dy="0">地产投资</tspan><tspan class="lgb" dy="-0.8">(%)</tspan></text>
<path class="ln" stroke="#808080" stroke-width="4.1" d="M334.5 527.3H358.5"/>
<text class="lg" x="361.5" y="533.6"><tspan dy="0">基建投资</tspan><tspan class="lgb" dy="-0.8">(%)</tspan></text>
<path class="ln" stroke="#002060" stroke-width="4.1" d="M518.5 527.3H542.5"/>
<text class="lg" x="545.5" y="533.6"><tspan dy="0">社融</tspan><tspan class="lgb" dy="-0.8">-M2</tspan><tspan dy="0.8">（</tspan><tspan class="lgb" dy="-0.8">%</tspan><tspan dy="0.8">，右轴）</tspan></text>
</svg>
</body>
</html>
